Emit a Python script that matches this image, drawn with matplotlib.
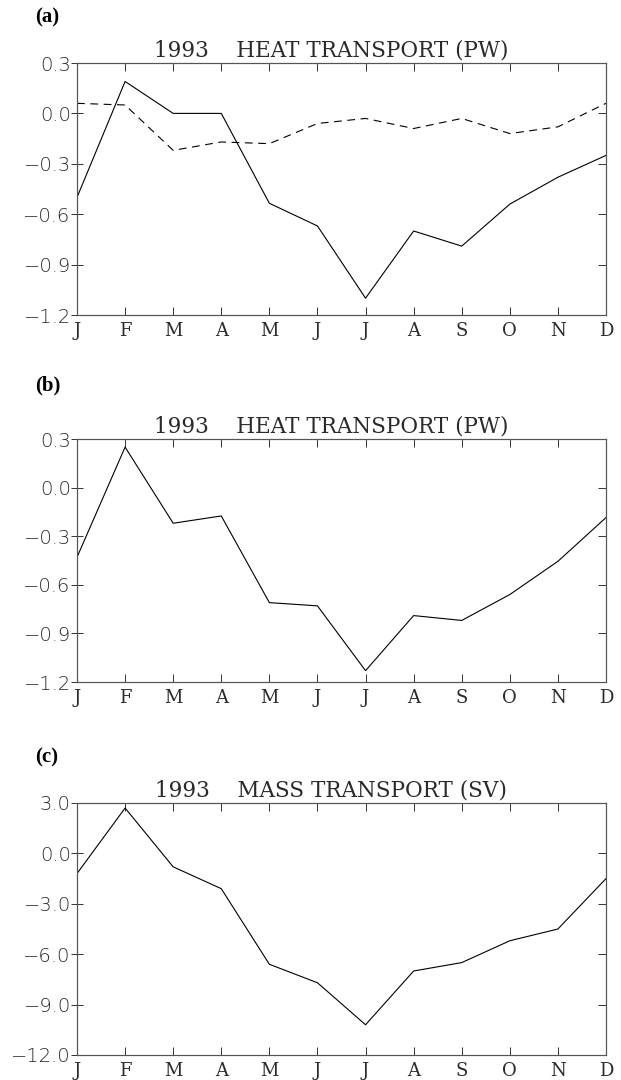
import numpy as np
import matplotlib
matplotlib.use('Agg')
import matplotlib.pyplot as plt

# month labels
months = ['J', 'F', 'M', 'A', 'M', 'J', 'J', 'A', 'S', 'O', 'N', 'D']

# (a) heat transport, two estimates (PW)
heat_a_solid = [-0.50, 0.19, 0.00, 0.00, -0.535, -0.67, -1.10, -0.70, -0.79, -0.54, -0.38, -0.25]
heat_a_dashed = [0.06, 0.05, -0.22, -0.17, -0.18, -0.06, -0.03, -0.09, -0.03, -0.12, -0.08, 0.06]

# (b) heat transport (PW)
heat_b = [-0.43, 0.25, -0.22, -0.175, -0.71, -0.73, -1.13, -0.79, -0.82, -0.66, -0.455, -0.185]

# (c) mass transport (SV)
mass_c = [-1.2, 2.7, -0.8, -2.1, -6.6, -7.7, -10.2, -7.0, -6.5, -5.2, -4.5, -1.5]

heat_ticks = [0.3, 0.0, -0.3, -0.6, -0.9, -1.2]
mass_ticks = [3.0, 0.0, -3.0, -6.0, -9.0, -12.0]

serif = ['DejaVu Serif']
sans = ['DejaVu Sans']
ink = '#2a2a2a'

fig = plt.figure(figsize=(6.21, 10.8), dpi=100)

W, H = 621.0, 1080.0
left, right = 77, 606
# (top, bottom) pixel rows of each panel
boxes = [(63, 315), (439, 682), (803, 1055)]
label_y = [17, 385, 757]
labels = ['(a)', '(b)', '(c)']
titles = ['1993    HEAT TRANSPORT (PW)', '1993    HEAT TRANSPORT (PW)',
          '1993    MASS TRANSPORT (SV)']

x = np.arange(len(months))

def fmt(v):
    s = '%.1f' % abs(v)
    return ('\u2212' + s) if v < 0 else s

def style_axis(ax, yticks):
    ax.set_xlim(0, 11)
    ax.set_ylim(yticks[-1], yticks[0])
    ax.set_xticks(x)
    ax.set_xticklabels(months, fontfamily=serif, fontsize=13, fontweight='light')
    ax.set_yticks(yticks)
    ax.set_yticklabels([fmt(v) for v in yticks],
                       fontfamily=sans, fontsize=14, fontweight='light')
    ax.tick_params(axis='x', which='both', direction='in', top=True, bottom=True,
                   length=6, width=0.7, pad=5, colors='#333333', labelcolor=ink)
    ax.tick_params(axis='y', which='both', direction='inout', left=True, right=False,
                   length=9, width=0.7, pad=0, colors='#333333', labelcolor=ink)
    # inward ticks on the right side
    ax2 = ax.twinx()
    ax2.set_ylim(ax.get_ylim())
    ax2.set_yticks(yticks)
    ax2.set_yticklabels([])
    ax2.tick_params(axis='y', direction='in', length=6, width=0.7, colors='#333333')
    for a in (ax, ax2):
        for s in a.spines.values():
            s.set_linewidth(0.8)
            s.set_color('#555555')

axes = []
for (top, bot), ly, lab, ttl in zip(boxes, label_y, labels, titles):
    ax = fig.add_axes([left / W, 1 - bot / H, (right - left) / W, (bot - top) / H])
    ax.set_title(ttl, fontfamily=serif, fontsize=15.5, fontweight='light',
                 color=ink, pad=5, x=0.48)
    fig.text(35 / W, 1 - ly / H, lab, fontfamily=['Liberation Serif'],
             fontweight='bold', fontsize=15, va='center', ha='left')
    axes.append(ax)

axes[0].plot(x, heat_a_solid, color='black', linewidth=0.8)
axes[0].plot(x, heat_a_dashed, color='black', linewidth=0.8, dashes=(7, 5))
style_axis(axes[0], heat_ticks)

axes[1].plot(x, heat_b, color='black', linewidth=0.8)
style_axis(axes[1], heat_ticks)

axes[2].plot(x, mass_c, color='black', linewidth=0.8)
style_axis(axes[2], mass_ticks)

fig.savefig('out.png', dpi=100)
